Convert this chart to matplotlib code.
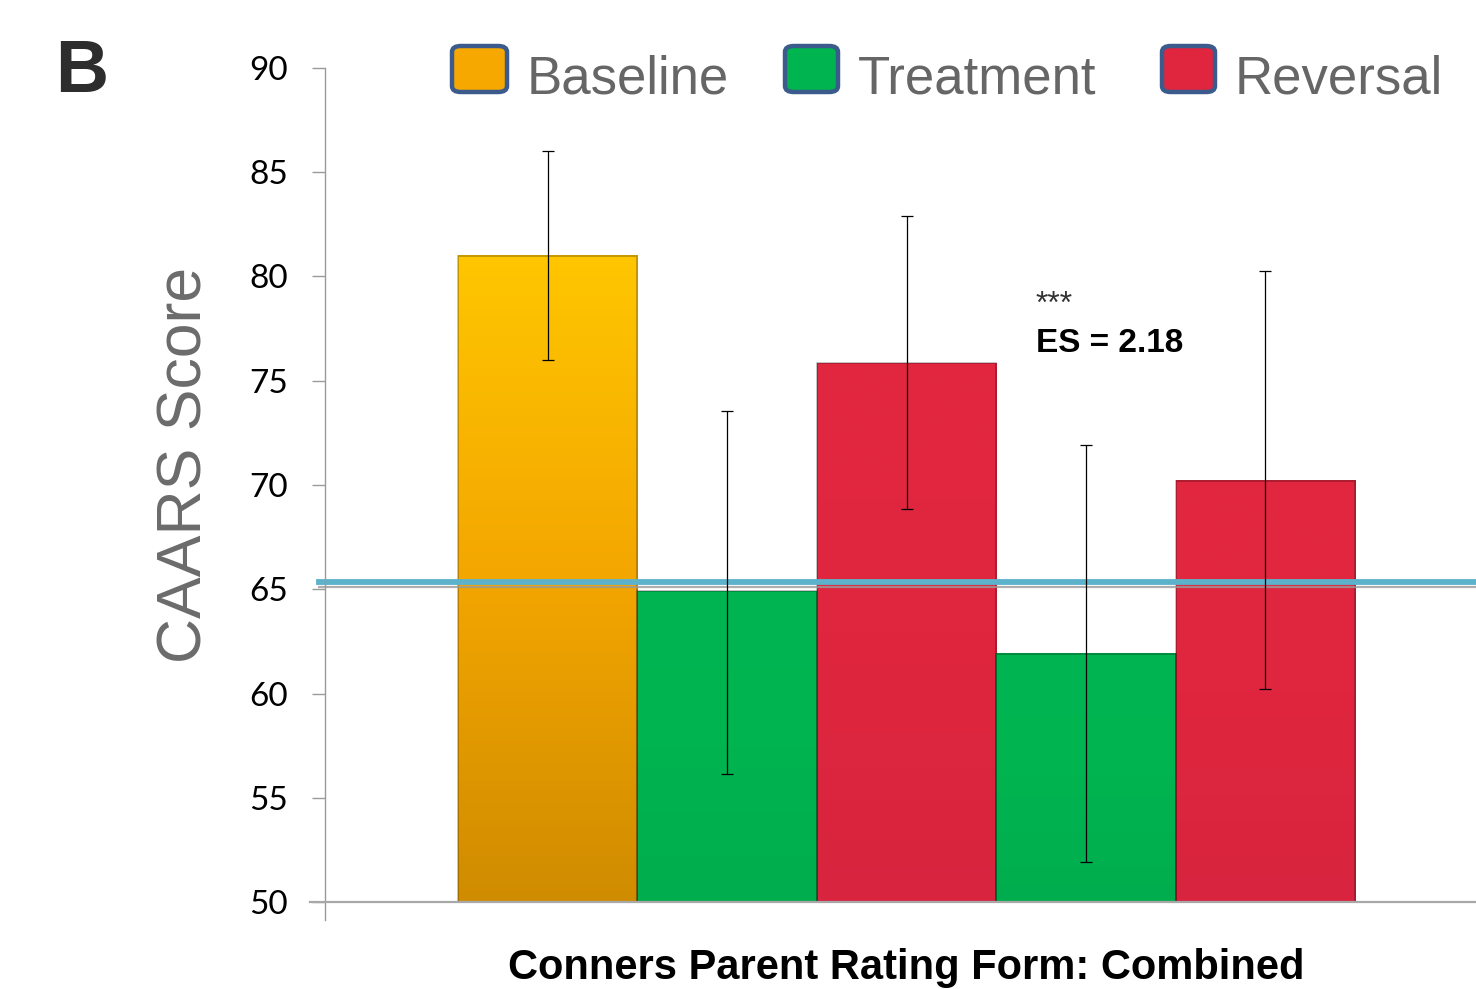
import matplotlib
matplotlib.use("Agg")
import matplotlib.pyplot as plt
import numpy as np
from matplotlib.colors import LinearSegmentedColormap
from matplotlib.patches import FancyBboxPatch

# ---- data ----
conditions = ["Baseline", "Treatment", "Reversal", "Treatment", "Reversal"]
means = [81.0, 64.9, 75.85, 61.9, 70.2]
err_upper = [86.0, 73.55, 82.9, 71.9, 80.25]
err_lower = [76.0, 56.15, 68.85, 51.9, 60.2]
cutoff = 65.35
yticks = [50, 55, 60, 65, 70, 75, 80, 85, 90]
legend_labels = ["Baseline", "Treatment", "Reversal"]

W, H = 1476, 989
fig = plt.figure(figsize=(W / 100, H / 100), dpi=100)
fig.patch.set_facecolor("white")

def fx(px):
    return px / W

def fy(py):
    return 1 - py / H

ax = fig.add_axes([fx(325), fy(902), fx(1476) - fx(325), fy(68) - fy(902)])
ax.set_facecolor("none")

grad_colors = {
    "Baseline": ["#D08C00", "#F3A600", "#FFC600"],
    "Treatment": ["#00AD4E", "#00B450", "#00B652"],
    "Reversal": ["#D8243E", "#E0263F", "#E2273F"],
}

x = np.arange(len(means))
for i, (c, m) in enumerate(zip(conditions, means)):
    cmap = LinearSegmentedColormap.from_list(c, grad_colors[c])
    grad = np.linspace(0, 1, 256).reshape(-1, 1)
    ax.imshow(grad, extent=[i - 0.5, i + 0.5, 50, m], origin="lower",
              aspect="auto", cmap=cmap, zorder=2, interpolation="bilinear")
    ax.bar(i, m - 50, bottom=50, width=1.0, facecolor="none",
           edgecolor=(0, 0, 0, 0.25), linewidth=1.3, zorder=3)

# cutoff line with shadow
ax.axhline(cutoff - 0.22, xmin=-0.005, xmax=1, color="#9a9a9a", lw=1.6,
           alpha=0.8, zorder=4, clip_on=False)
ax.axhline(cutoff, xmin=-0.005, xmax=1, color="#5DB2CB", lw=4.2, zorder=5,
           clip_on=False)

# error bars
yerr = [np.array(means) - np.array(err_lower), np.array(err_upper) - np.array(means)]
ax.errorbar(x, means, yerr=yerr, fmt="none", ecolor="black", elinewidth=0.9,
            capsize=4.5, capthick=0.9, zorder=6)

xmin = -0.5 - (458 - 325) / 179.4
xmax = 4.5 + (1476 - 1355) / 179.4
ax.set_xlim(xmin, xmax)
ax.set_ylim(50, 90)

for s in ax.spines.values():
    s.set_visible(False)
# axis lines
ax.plot([xmin, xmin], [50 - 18 / 20.85, 90], color="#9a9a9a", lw=1.0,
        clip_on=False, zorder=7)
ax.plot([xmin - 15 / 179.4, xmax], [50, 50], color="#a8a8a8", lw=1.6,
        clip_on=False, zorder=7)

ax.set_xticks([])
ax.set_yticks(yticks)
ax.set_yticklabels([str(t) for t in yticks], fontsize=24, family="Lato",
                   color="black")
ax.tick_params(axis="y", length=9.5, width=1.0, color="#9a9a9a", pad=17)

# y label
fig.text(fx(185), fy(465), "CAARS Score", rotation=90, fontsize=45,
         family="Liberation Sans", color="#6b6b6b", ha="center", va="center")

# panel letter
fig.text(fx(55), fy(72), "B", fontsize=53, fontweight="bold",
         family="Liberation Sans", color="#2d2d2d", ha="left", va="center")

# x label
fig.text(fx(906), fy(948), "Conners Parent Rating Form: Combined", fontsize=30,
         fontweight="bold", family="Liberation Sans",
         color="black", ha="center", va="top")

# annotation
fig.text(fx(1036), fy(305), "***", fontsize=23, family="Liberation Sans",
         color="#333333", ha="left", va="center")
fig.text(fx(1036), fy(343), "ES = 2.18", fontsize=24, fontweight="bold",
         family="Liberation Sans",
         color="black", ha="left", va="center")

# legend
leg_boxes = [(452, 507), (785, 838), (1162, 1215)]
leg_text_x = [527, 858, 1235]
leg_colors = ["#F7A800", "#00B450", "#E0263F"]
for (x0, x1), tx, col, lab in zip(leg_boxes, leg_text_x, leg_colors, legend_labels):
    y0, y1 = 46, 92
    p = FancyBboxPatch((fx(x0), fy(y1)), fx(x1) - fx(x0), fy(y0) - fy(y1),
                       boxstyle="round,pad=0,rounding_size=0.006",
                       transform=fig.transFigure, facecolor=col,
                       edgecolor="#3B5B8C", linewidth=3.2)
    fig.patches.append(p)
    fig.text(fx(tx), fy(80), lab, fontsize=38, family="Liberation Sans",
             color="#666666", ha="left", va="center")

fig.savefig("out.png", dpi=100)
